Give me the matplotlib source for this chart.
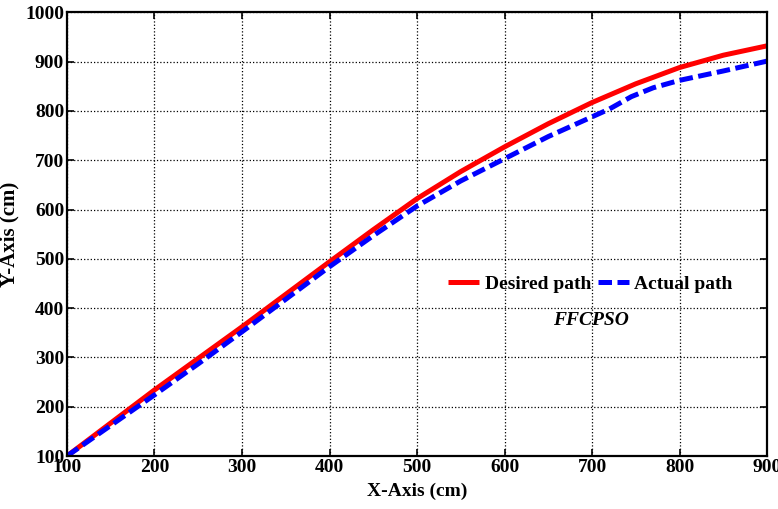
import numpy as np
import matplotlib.pyplot as plt

# desired and actual trajectory (cm)
xDes = [100, 150, 200, 250, 300, 350, 400, 450, 500, 550, 600, 650, 700, 750, 800, 850, 900]
yDes = [100, 167, 234, 298, 362, 428, 494, 559, 622, 677, 727, 774, 817, 855, 888, 913, 932]

xAct = [100, 150, 200, 250, 300, 350, 400, 450, 500, 550, 600, 650, 700, 720, 745, 770, 800, 850, 900]
yAct = [100, 162, 224, 287, 352, 418, 484, 547, 607, 658, 703, 748, 788, 804, 829, 847, 862, 881, 901]

xTicks = [100, 200, 300, 400, 500, 600, 700, 800, 900]
yTicks = [100, 200, 300, 400, 500, 600, 700, 800, 900, 1000]

plt.rcParams['font.family'] = 'Liberation Serif'
plt.rcParams['font.weight'] = 'bold'

fig = plt.figure(figsize=(7.78, 5.09), dpi=100)
ax = fig.add_axes([0.0861, 0.1041, 0.8998, 0.8717])

ax.plot(xDes, yDes, color='#ff0000', lw=3.6, label='Desired path', solid_capstyle='butt')
ax.plot(xAct, yAct, color='#0000ff', lw=3.6, ls='--', dashes=(2.7, 1.1), label='Actual path')

ax.set_xlim(100, 900)
ax.set_ylim(100, 1000)
ax.set_xticks(xTicks)
ax.set_yticks(yTicks)
ax.tick_params(direction='in', top=True, right=True, length=5, width=1.2,
               labelsize=14, pad=2)
for lbl in ax.get_xticklabels() + ax.get_yticklabels():
    lbl.set_fontweight('bold')
for sp in ax.spines.values():
    sp.set_linewidth(1.6)

ax.grid(True, color='black', ls=':', lw=0.9)

ax.set_xlabel('X-Axis (cm)', fontsize=14, fontweight='bold', labelpad=5)
ax.set_ylabel('Y-Axis (cm)', fontsize=15, fontweight='bold', labelpad=4)

leg = ax.legend(loc='center', bbox_to_anchor=(0.748, 0.388), ncol=2, frameon=False,
                handlelength=1.6, handletextpad=0.3, columnspacing=0.3,
                prop={'weight': 'bold', 'size': 14})
ax.text(0.748, 0.305, 'FFCPSO', transform=ax.transAxes, ha='center', va='center',
        fontsize=14, fontstyle='italic', fontweight='bold')

fig.savefig('out.png', dpi=100)
